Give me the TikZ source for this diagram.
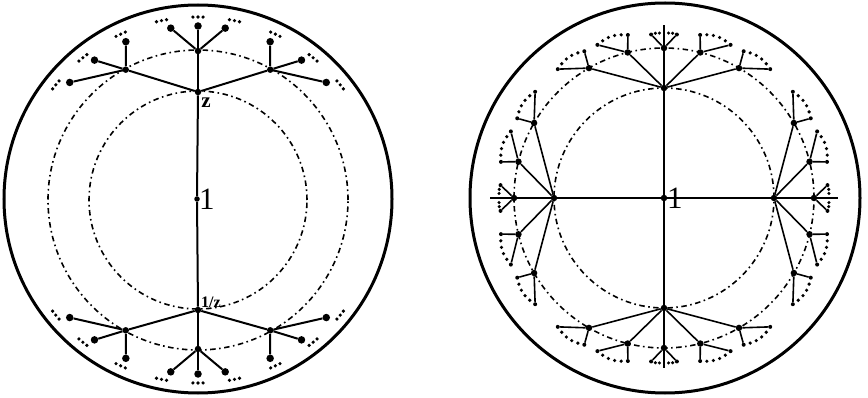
\documentclass[tikz,border=0pt]{standalone}
\usepackage{fontspec}
\setmainfont{Liberation Serif}
\begin{document}
\begin{tikzpicture}[x=1pt,y=-1pt,
  ledge/.style={line width=2pt},
  redge/.style={line width=1.6pt},
  dashdot/.style={line width=1.6pt, dash pattern=on 5.5pt off 3.5pt on 1.6pt off 3.5pt},
  rim/.style={line width=3pt},
  ndot/.style={circle, fill=black, inner sep=0pt, minimum size=6.5pt},
  bdot/.style={circle, fill=black, inner sep=0pt, minimum size=7.5pt},
  sdot/.style={circle, fill=black, inner sep=0pt, minimum size=4pt},
  numlab/.style={anchor=west, inner sep=0pt, font=\fontsize{31}{31}\selectfont},
  zlab/.style={inner sep=0pt, font=\bfseries}]
\useasboundingbox (0,0) rectangle (868,398);

% ---------------- left disk ----------------
\draw[rim] (198,199) circle[radius=194pt];
\begin{scope}[shift={(198,200)}]
  \draw[dashdot] (0,0) circle[radius=109pt];
  \draw[dashdot] (0,0) circle[radius=150pt];
  \node[ndot, minimum size=5.5pt] (L1) at (-1,-1) {};
  \node[numlab] (L1lab) at (1,-1) {1};
  \foreach \m/\nm/\r in {1/t/108, -1/b/110} {
    \node[ndot] (L\nm0) at (\m*90:\r pt) {};
    \foreach \c/\ca in {1/119, 2/90, 3/61} {
      \node[ndot] (L\nm\c) at (\m*\ca:149pt) {};
      \draw[ledge] (L\nm0) -- (L\nm\c);
    }
    \foreach \c/\la/\da [count=\k] in {1/114.5/115, 1/126.5/129, 1/137.5/141,
        2/99/101.5, 2/90/90, 2/81/78.5, 3/65.5/65, 3/53.5/51, 3/42.5/39} {
      \node[bdot] (L\nm-l\k) at (\m*\la:174pt) {};
      \draw[ledge] (L\nm\c) -- (L\nm-l\k);
      \foreach \e in {-1.6,0,1.6}
        \fill ({\m*(\da+\e)}:183pt) circle[radius=1.8pt];
    }
  }
  \draw[ledge] (Lt0) -- (L1) -- (Lb0);
  \node[zlab, font=\bfseries\fontsize{21}{21}\selectfont] (zlab) at (8,-97) {z};
  \node[zlab, font=\bfseries\fontsize{16}{16}\selectfont] (izlab) at (13,102) {1/z};
\end{scope}

% ---------------- right disk ----------------
\draw[rim] (665,198) circle[radius=195pt];
\begin{scope}[shift={(664,198)}]
  \draw[dashdot] (0,0) circle[radius=110pt];
  \draw[dashdot] (0,0) circle[radius=150pt];
  \node[ndot] (R0) at (0,0) {};
  \node[numlab] (R0lab) at (3,0) {1};
  \coordinate (Re1) at (0,-173);
  \coordinate (Re2) at (-174,0);
  \coordinate (Re3) at (0,170);
  \coordinate (Re4) at (174,0);
  \foreach \p/\pa in {1/90, 2/180, 3/270, 4/0} {
    \node[ndot] (Rp\p) at (\pa:110pt) {};
    \draw[redge] (R0) -- (Rp\p);
    % axis child
    \node[ndot] (Rc\p-0) at (\pa:150pt) {};
    \draw[redge] (Rp\p) -- (Rc\p-0);
    \draw[redge] (Rc\p-0) -- (Re\p);
    \node[sdot] (Ra\p-a) at ({\pa+4.5}:164pt) {};
    \node[sdot] (Ra\p-b) at ({\pa-4.5}:164pt) {};
    \draw[redge] (Rc\p-0) -- (Ra\p-a);
    \draw[redge] (Rc\p-0) -- (Ra\p-b);
    \foreach \e in {-3,-1.6,1.6,3}
      \fill ({\pa+\e}:165pt) circle[radius=1.7pt];
    % side children
    \foreach \d/\s [count=\k] in {30/1, 14/1, -14/-1, -30/-1} {
      \pgfmathsetmacro\ca{\pa+\d}
      \pgfmathsetmacro\aa{\ca-1.5*\s}
      \pgfmathsetmacro\ab{\ca+9.5*\s}
      \node[ndot] (Rc\p-\k) at (\ca:150pt) {};
      \draw[redge] (Rp\p) -- (Rc\p-\k);
      \node[sdot] (Rl\p-\k-a) at (\aa:167pt) {};
      \node[sdot] (Rl\p-\k-b) at (\ab:167pt) {};
      \draw[redge] (Rc\p-\k) -- (Rl\p-\k-a);
      \draw[redge] (Rc\p-\k) -- (Rl\p-\k-b);
      \foreach \t in {0.2,0.4,0.6,0.8} {
        \pgfmathsetmacro\ta{\aa+\t*11*\s}
        \pgfmathsetmacro\rr{167+3*sin(180*\t)}
        \fill (\ta:\rr pt) circle[radius=1.8pt];
      }
    }
  }
\end{scope}
\end{tikzpicture}
\end{document}
